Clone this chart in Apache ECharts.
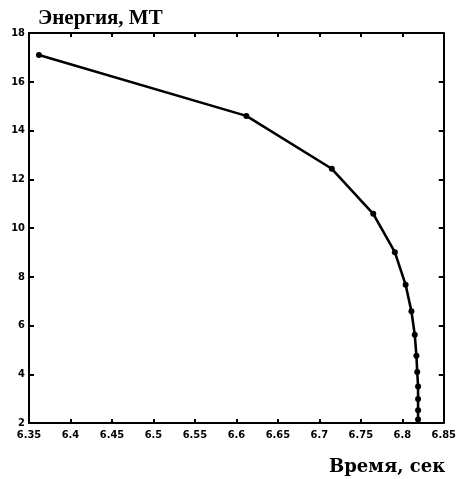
<!DOCTYPE html>
<html>
<head>
<meta charset="utf-8">
<script src="https://cdn.jsdelivr.net/npm/echarts@6/dist/echarts.min.js"></script>
<style>
  html, body { margin: 0; padding: 0; background: #fff; }
  #chart { width: 459px; height: 479px; }
</style>
</head>
<body>
<div id="chart"></div>
<script>
// Time (s) and energy (MT) along the curve
const timeSec = [6.362, 6.612, 6.715, 6.765, 6.791, 6.804, 6.811, 6.815, 6.817, 6.818, 6.819, 6.819, 6.819, 6.819];
const energyMT = [17.1, 14.6, 12.43, 10.58, 9.01, 7.67, 6.58, 5.62, 4.76, 4.09, 3.50, 2.98, 2.52, 2.14];

// Axis ranges and tick steps
const xMin = 6.35, xMax = 6.85, xStep = 0.05;
const yMin = 2, yMax = 18, yStep = 2;

const tickFont = {
  fontFamily: '"DejaVu Sans Condensed", "Liberation Sans Narrow", sans-serif',
  fontWeight: 'bold',
  fontSize: 11,
  color: '#000'
};

const axisLine = { show: true, onZero: false, lineStyle: { color: '#000', width: 2 } };
const innerTick = (len) => ({ show: true, inside: true, length: len, lineStyle: { color: '#000', width: 2 } });
const fmt = (v) => String(parseFloat(v.toFixed(2)));

const chart = echarts.init(document.getElementById('chart'));
chart.setOption({
  animation: false,
  backgroundColor: '#fff',
  grid: { left: 29, right: 13, top: 33, bottom: 56, containLabel: false },
  xAxis: [
    {
      type: 'value', position: 'bottom', min: xMin, max: xMax, interval: xStep,
      axisLine, axisTick: innerTick(4), splitLine: { show: false },
      axisLabel: Object.assign({ margin: 7, formatter: fmt }, tickFont)
    },
    {
      type: 'value', position: 'top', min: xMin, max: xMax, interval: xStep,
      axisLine, axisTick: innerTick(4), splitLine: { show: false },
      axisLabel: { show: false }
    }
  ],
  yAxis: [
    {
      type: 'value', position: 'left', min: yMin, max: yMax, interval: yStep,
      axisLine, axisTick: innerTick(5), splitLine: { show: false },
      axisLabel: Object.assign({ margin: 4 }, tickFont)
    },
    {
      type: 'value', position: 'right', min: yMin, max: yMax, interval: yStep,
      axisLine, axisTick: innerTick(5), splitLine: { show: false },
      axisLabel: { show: false }
    }
  ],
  series: [{
    type: 'line',
    data: timeSec.map((t, i) => [t, energyMT[i]]),
    symbol: 'circle',
    symbolSize: 6,
    showSymbol: true,
    lineStyle: { color: '#000', width: 2.6 },
    itemStyle: { color: '#000' }
  }],
  graphic: [
    {
      type: 'text', left: 38, top: 8,
      style: {
        text: 'Энергия, МТ',
        fontFamily: '"Liberation Serif", serif',
        fontWeight: 'bold', fontSize: 21, fill: '#000'
      }
    },
    {
      type: 'text', left: 329, top: 458,
      style: {
        text: 'Время, сек',
        fontFamily: '"DejaVu Serif", serif',
        fontWeight: 'bold', fontSize: 18, fill: '#000'
      }
    }
  ]
});
</script>
</body>
</html>
